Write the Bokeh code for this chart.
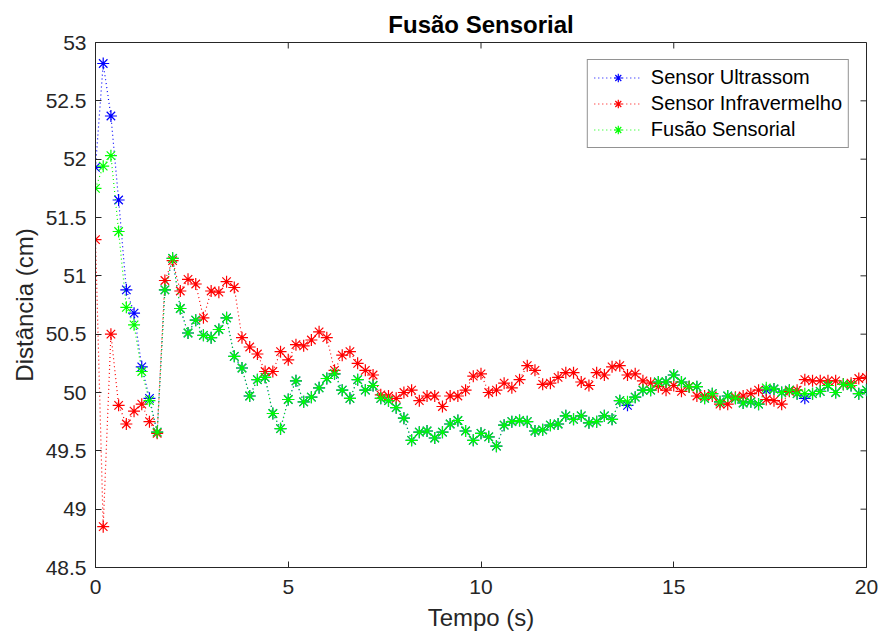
from bokeh.plotting import figure
from bokeh.models import Range1d, FixedTicker, CustomJSTickFormatter
from bokeh.embed import file_html
from bokeh.resources import INLINE

# time samples (s), 0.2 s apart
tempo = [round(0.2 * i, 1) for i in range(101)]

ultrassom = [51.93, 52.82, 52.37, 51.65, 50.88, 50.68, 50.22, 49.95, 49.66, 50.88,
             51.15, 50.72, 50.51, 50.62, 50.49, 50.47, 50.54, 50.64, 50.31, 50.21,
             49.97, 50.11, 50.13, 49.82, 49.69, 49.94, 50.10, 49.92, 49.96, 50.04,
             50.12, 50.16, 50.02, 49.95, 50.11, 50.02, 50.06, 49.95, 49.93, 49.87,
             49.78, 49.59, 49.66, 49.67, 49.61, 49.66, 49.73, 49.76, 49.67, 49.59,
             49.65, 49.62, 49.54, 49.72, 49.75, 49.76, 49.75, 49.67, 49.68, 49.72,
             49.73, 49.80, 49.77, 49.80, 49.74, 49.75, 49.80, 49.77, 49.93, 49.89,
             49.96, 50.02, 50.02, 50.09, 50.09, 50.15, 50.09, 50.05, 50.05, 49.95,
             49.99, 49.92, 49.97, 49.95, 49.91, 49.92, 49.90, 50.02, 50.03, 50.00,
             50.02, 49.99, 49.95, 49.99, 50.01, 50.06, 50.00, 50.07, 50.06, 49.99,
             50.02]

infravermelho = [51.31, 48.85, 50.50, 49.89, 49.73, 49.84, 49.90, 49.75, 49.65, 50.96,
                 51.13, 50.87, 50.97, 50.93, 50.64, 50.87, 50.86, 50.95, 50.90, 50.47,
                 50.39, 50.33, 50.18, 50.18, 50.35, 50.28, 50.41, 50.40, 50.45, 50.52,
                 50.47, 50.19, 50.32, 50.35, 50.25, 50.19, 50.15, 49.98, 49.97, 49.95,
                 50.00, 50.02, 49.93, 49.97, 49.97, 49.88, 49.97, 49.97, 50.02, 50.14,
                 50.16, 50.00, 50.02, 50.08, 50.04, 50.11, 50.23, 50.19, 50.07, 50.08,
                 50.13, 50.17, 50.17, 50.09, 50.06, 50.17, 50.15, 50.22, 50.23, 50.15,
                 50.16, 50.10, 50.08, 50.05, 50.02, 50.06, 50.01, 50.05, 49.97, 49.97,
                 49.97, 49.90, 49.90, 49.96, 49.97, 49.99, 50.02, 49.94, 49.93, 49.90,
                 50.01, 50.02, 50.11, 50.10, 50.10, 50.10, 50.10, 50.07, 50.08, 50.12,
                 50.13]

fusao = [51.75, 51.94, 52.03, 51.38, 50.73, 50.58, 50.18, 49.93, 49.66, 50.88,
         51.15, 50.72, 50.51, 50.62, 50.49, 50.47, 50.54, 50.64, 50.31, 50.21,
         49.97, 50.11, 50.13, 49.82, 49.69, 49.94, 50.10, 49.92, 49.96, 50.04,
         50.12, 50.16, 50.02, 49.95, 50.11, 50.02, 50.06, 49.95, 49.93, 49.87,
         49.78, 49.59, 49.66, 49.67, 49.61, 49.66, 49.73, 49.76, 49.67, 49.59,
         49.65, 49.62, 49.54, 49.72, 49.75, 49.76, 49.75, 49.67, 49.68, 49.72,
         49.73, 49.80, 49.77, 49.80, 49.74, 49.75, 49.80, 49.77, 49.93, 49.92,
         49.96, 50.02, 50.02, 50.09, 50.09, 50.15, 50.09, 50.05, 50.05, 49.95,
         49.99, 49.92, 49.97, 49.95, 49.91, 49.92, 49.90, 50.04, 50.03, 50.00,
         50.02, 49.99, 49.99, 49.99, 50.01, 50.06, 50.00, 50.07, 50.06, 49.99,
         50.02]

x_ticks = [0, 5, 10, 15, 20]
y_ticks = [48.5, 49, 49.5, 50, 50.5, 51, 51.5, 52, 52.5, 53]
x_lim = (0, 20)
y_lim = (48.5, 53)

FONT = "Liberation Sans"
DARK = "#262626"

p = figure(width=881, height=639, output_backend="svg", toolbar_location=None,
           x_range=Range1d(*x_lim), y_range=Range1d(*y_lim),
           min_border_left=95, min_border_right=15, min_border_top=42, min_border_bottom=72)

p.title.text = "Fusão Sensorial"
p.title.align = "center"
p.title.text_font = FONT
p.title.text_font_size = "24px"
p.title.text_font_style = "bold"
p.title.text_color = "black"
p.title.offset = 0
p.title.standoff = 10

p.xgrid.visible = False
p.ygrid.visible = False
p.outline_line_color = DARK
p.outline_line_width = 1

fmt = CustomJSTickFormatter(code="return String(Math.round(tick*10)/10);")

def style_axis(ax, ticks):
    ax.ticker = FixedTicker(ticks=ticks)
    ax.formatter = fmt
    ax.major_tick_in = 6
    ax.major_tick_out = 0
    ax.minor_tick_in = 0
    ax.minor_tick_out = 0
    ax.axis_line_color = DARK
    ax.major_tick_line_color = DARK
    ax.major_label_text_font = FONT
    ax.major_label_text_font_size = "21px"
    ax.major_label_text_color = DARK
    ax.axis_label_text_font = FONT
    ax.axis_label_text_font_size = "24px"
    ax.axis_label_text_font_style = "normal"
    ax.axis_label_text_color = DARK

style_axis(p.xaxis[0], x_ticks)
style_axis(p.yaxis[0], y_ticks)
p.xaxis[0].axis_label = "Tempo (s)"
p.yaxis[0].axis_label = "Distância (cm)"
p.xaxis[0].major_label_standoff = 12
p.xaxis[0].axis_label_standoff = 7
p.yaxis[0].major_label_standoff = 9
p.yaxis[0].axis_label_standoff = 5

# inward ticks on the top and right edges of the box
p.ray(x=x_ticks, y=[y_lim[1]] * len(x_ticks), length=6, length_units="screen",
      angle=-90, angle_units="deg", line_color=DARK, line_width=1)
p.ray(x=[x_lim[1]] * len(y_ticks), y=y_ticks, length=6, length_units="screen",
      angle=180, angle_units="deg", line_color=DARK, line_width=1)

series = [(ultrassom, "#0000FF", "Sensor Ultrassom"),
          (infravermelho, "#FF0000", "Sensor Infravermelho"),
          (fusao, "#00FF00", "Fusão Sensorial")]

for ys, col, lab in series:
    p.line(tempo, ys, line_color=col, line_width=1.2, line_dash="1 3", legend_label=lab)
    p.scatter(tempo, ys, marker="asterisk", size=12, line_color=col, line_width=1.2,
              legend_label=lab)

leg = p.legend[0]
leg.location = "top_right"
leg.margin = 17
leg.border_line_color = DARK
leg.border_line_width = 1
leg.background_fill_color = "white"
leg.background_fill_alpha = 1
leg.label_text_font = FONT
leg.label_text_font_size = "20px"
leg.label_text_color = "black"
leg.glyph_width = 48
leg.glyph_height = 21
leg.label_height = 21
leg.spacing = 3
leg.padding = 6
leg.label_standoff = 9

open("out.html", "w").write(file_html(p, INLINE))
